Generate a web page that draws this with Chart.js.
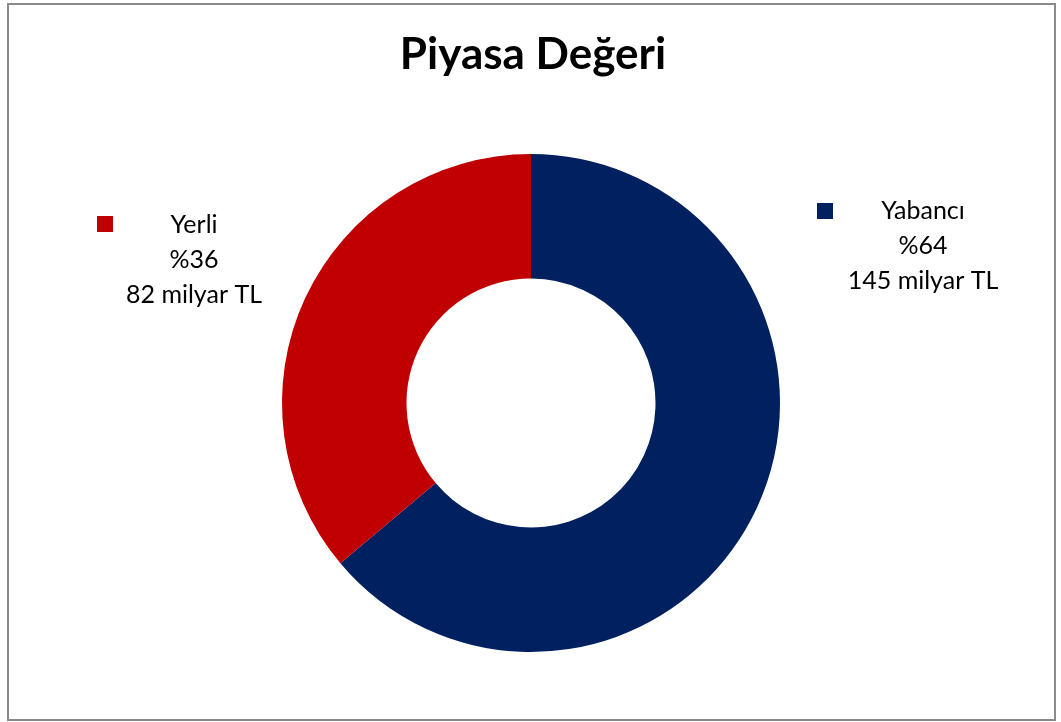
<!DOCTYPE html>
<html>
<head>
<meta charset="utf-8">
<script src="https://cdn.jsdelivr.net/npm/chart.js@4/dist/chart.umd.min.js"></script>
<style>
  html, body { margin: 0; padding: 0; background: #ffffff; }
  #wrap { width: 1061px; height: 722px; position: relative; }
</style>
</head>
<body>
<div id="wrap"><canvas id="c" width="1061" height="722"></canvas></div>
<script>
const titleText = "Piyasa Değeri";
const categories = ["Yabancı", "Yerli"];
const values = [145, 82];
const unitLabel = "milyar TL";
const colors = ["#002060", "#C00000"];

const FONT = "Lato, 'Liberation Sans', sans-serif";

const decorPlugin = {
  id: 'decor',
  afterDraw(chart) {
    const ctx = chart.ctx;
    ctx.save();
    // frame
    ctx.strokeStyle = '#8a8a8a';
    ctx.lineWidth = 2;
    ctx.strokeRect(8, 4, 1047, 716);
    // title
    ctx.fillStyle = '#000';
    ctx.font = "bold 44px " + FONT;
    ctx.textAlign = 'center';
    ctx.textBaseline = 'middle';
    ctx.fillText(titleText, 533, 55);
    // labels
    const total = values.reduce((a, b) => a + b, 0);
    const pos = [
      { mx: 825, my: 211, tx: 923, ty: 211 },
      { mx: 105, my: 224, tx: 194, ty: 225 }
    ];
    ctx.font = "25px " + FONT;
    values.forEach((v, i) => {
      const p = pos[i];
      ctx.fillStyle = colors[i];
      ctx.fillRect(p.mx - 8, p.my - 8, 16, 16);
      ctx.fillStyle = '#000';
      const pct = Math.round(v / total * 100);
      const lines = [categories[i], '%' + pct, v + ' ' + unitLabel];
      lines.forEach((t, k) => ctx.fillText(t, p.tx, p.ty + k * 35));
    });
    ctx.restore();
  }
};

new Chart(document.getElementById('c'), {
  type: 'doughnut',
  data: {
    labels: categories,
    datasets: [{
      data: values,
      backgroundColor: colors,
      borderWidth: 0,
      hoverOffset: 0
    }]
  },
  options: {
    responsive: false,
    animation: false,
    cutout: '50%',
    layout: { padding: { top: 154, bottom: 70, left: 282, right: 281 } },
    plugins: {
      legend: { display: false },
      tooltip: { enabled: false },
      title: { display: false }
    }
  },
  plugins: [decorPlugin]
});
</script>
</body>
</html>
